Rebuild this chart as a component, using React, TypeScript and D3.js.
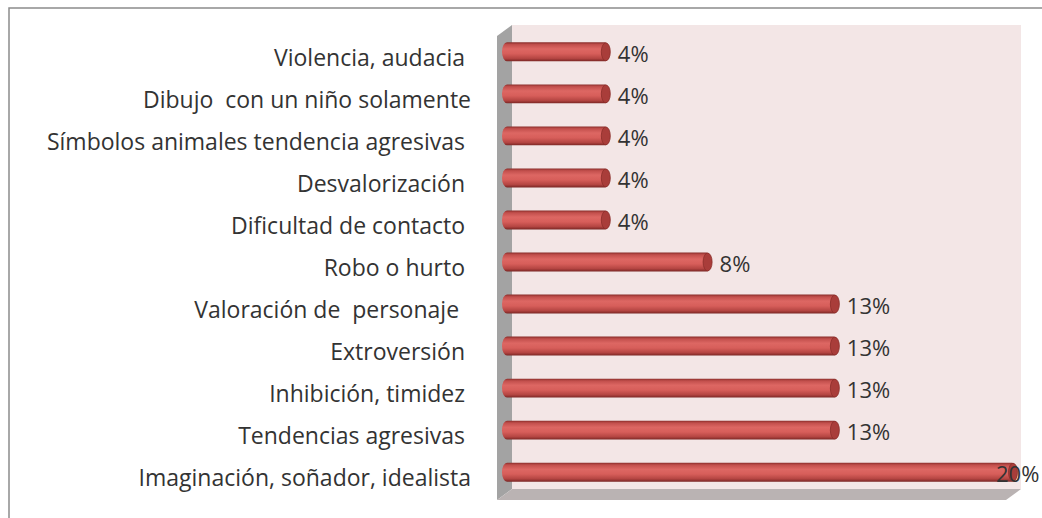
import { useEffect, useRef } from "react";
import * as d3 from "d3";

const categories = [
  "Violencia, audacia ",
  "Dibujo  con un niño solamente",
  "Símbolos animales tendencia agresivas ",
  "Desvalorización ",
  "Dificultad de contacto ",
  "Robo o hurto ",
  "Valoración de  personaje  ",
  "Extroversión ",
  "Inhibición, timidez ",
  "Tendencias agresivas ",
  "Imaginación, soñador, idealista",
];
const values = [4, 4, 4, 4, 4, 8, 13, 13, 13, 13, 20];
const valueLabels = ["4%", "4%", "4%", "4%", "4%", "8%", "13%", "13%", "13%", "13%", "20%"];

const W = 1042;
const H = 518;
const PLOT = { left: 512, right: 1021, top: 25, bottom: 489 };
const DEPTH = { dx: 15, dy: 11 };
const FONT = "'Open Sans', 'Liberation Sans', sans-serif";

export default function App() {
  const svgRef = useRef<SVGSVGElement>(null);

  useEffect(() => {
    if (!svgRef.current) return;
    const svg = d3.select(svgRef.current);
    svg.selectAll("*").remove();

    const x = d3
      .scaleLinear()
      .domain([0, 20])
      .range([PLOT.left - 4, PLOT.right - 4]);
    const y = d3
      .scaleBand<string>()
      .domain(categories)
      .range([31, 493])
      .paddingInner(0.55)
      .paddingOuter(0.27);

    const defs = svg.append("defs");
    const grad = defs
      .append("linearGradient")
      .attr("id", "barGrad")
      .attr("x1", 0)
      .attr("x2", 0)
      .attr("y1", 0)
      .attr("y2", 1);
    [
      ["0%", "#8a2d2a"],
      ["12%", "#c24f4c"],
      ["35%", "#dd6763"],
      ["60%", "#d75e5a"],
      ["85%", "#b44542"],
      ["100%", "#7a2624"],
    ].forEach(([o, c]) => grad.append("stop").attr("offset", o).attr("stop-color", c));

    // frame
    svg
      .append("rect")
      .attr("x", 9)
      .attr("y", 8)
      .attr("width", W + 20)
      .attr("height", H + 20)
      .attr("fill", "#fff")
      .attr("stroke", "#8c8c8c")
      .attr("stroke-width", 1.5);

    // back wall
    svg
      .append("rect")
      .attr("x", PLOT.left)
      .attr("y", PLOT.top)
      .attr("width", PLOT.right - PLOT.left)
      .attr("height", PLOT.bottom - PLOT.top)
      .attr("fill", "#f3e6e6");

    // side wall
    svg
      .append("path")
      .attr(
        "d",
        `M${PLOT.left},${PLOT.top} L${PLOT.left - DEPTH.dx},${PLOT.top + DEPTH.dy} L${PLOT.left - DEPTH.dx},${PLOT.bottom + DEPTH.dy} L${PLOT.left},${PLOT.bottom} Z`
      )
      .attr("fill", "#a3a3a3");

    // floor
    svg
      .append("path")
      .attr(
        "d",
        `M${PLOT.left},${PLOT.bottom} L${PLOT.right},${PLOT.bottom} L${PLOT.right - DEPTH.dx},${PLOT.bottom + DEPTH.dy} L${PLOT.left - DEPTH.dx},${PLOT.bottom + DEPTH.dy} Z`
      )
      .attr("fill", "#bab3b3");

    const bh = y.bandwidth();
    const x0 = PLOT.left - 10;

    const bars = svg
      .append("g")
      .selectAll("g")
      .data(categories)
      .join("g")
      .attr("transform", (d) => `translate(0,${y(d)})`);

    bars
      .append("rect")
      .attr("x", x0)
      .attr("y", 0)
      .attr("width", (_, i) => x(values[i]) - x0)
      .attr("height", bh)
      .attr("rx", 5)
      .attr("ry", bh / 2)
      .attr("fill", "url(#barGrad)");

    bars
      .append("ellipse")
      .attr("cx", (_, i) => x(values[i]) - 4)
      .attr("cy", bh / 2)
      .attr("rx", 4.5)
      .attr("ry", bh / 2 - 0.5)
      .attr("fill", "#a93d3a")
      .attr("stroke", "#8a2d2a")
      .attr("stroke-width", 0.8);

    // value labels; the last one is pulled back so it stays inside the page
    bars
      .append("text")
      .attr("x", (_, i) => x(values[i]) + (values[i] === 20 ? -21 : 8))
      .attr("y", bh / 2 + 10)
      .attr("font-family", FONT)
      .attr("font-size", 22)
      .attr("fill", "#333")
      .text((_, i) => valueLabels[i]);

    // category labels
    svg
      .append("g")
      .selectAll("text")
      .data(categories)
      .join("text")
      .attr("x", 471)
      .attr("y", (d) => (y(d) ?? 0) + bh / 2 + 14)
      .attr("text-anchor", "end")
      .attr("font-family", FONT)
      .attr("font-size", 23)
      .attr("fill", "#333")
      .style("white-space", "pre")
      .text((d) => d);
  }, []);

  return (
    <svg
      ref={svgRef}
      width={W}
      height={H}
      style={{ position: "absolute", left: 0, top: 0, display: "block" }}
    />
  );
}
